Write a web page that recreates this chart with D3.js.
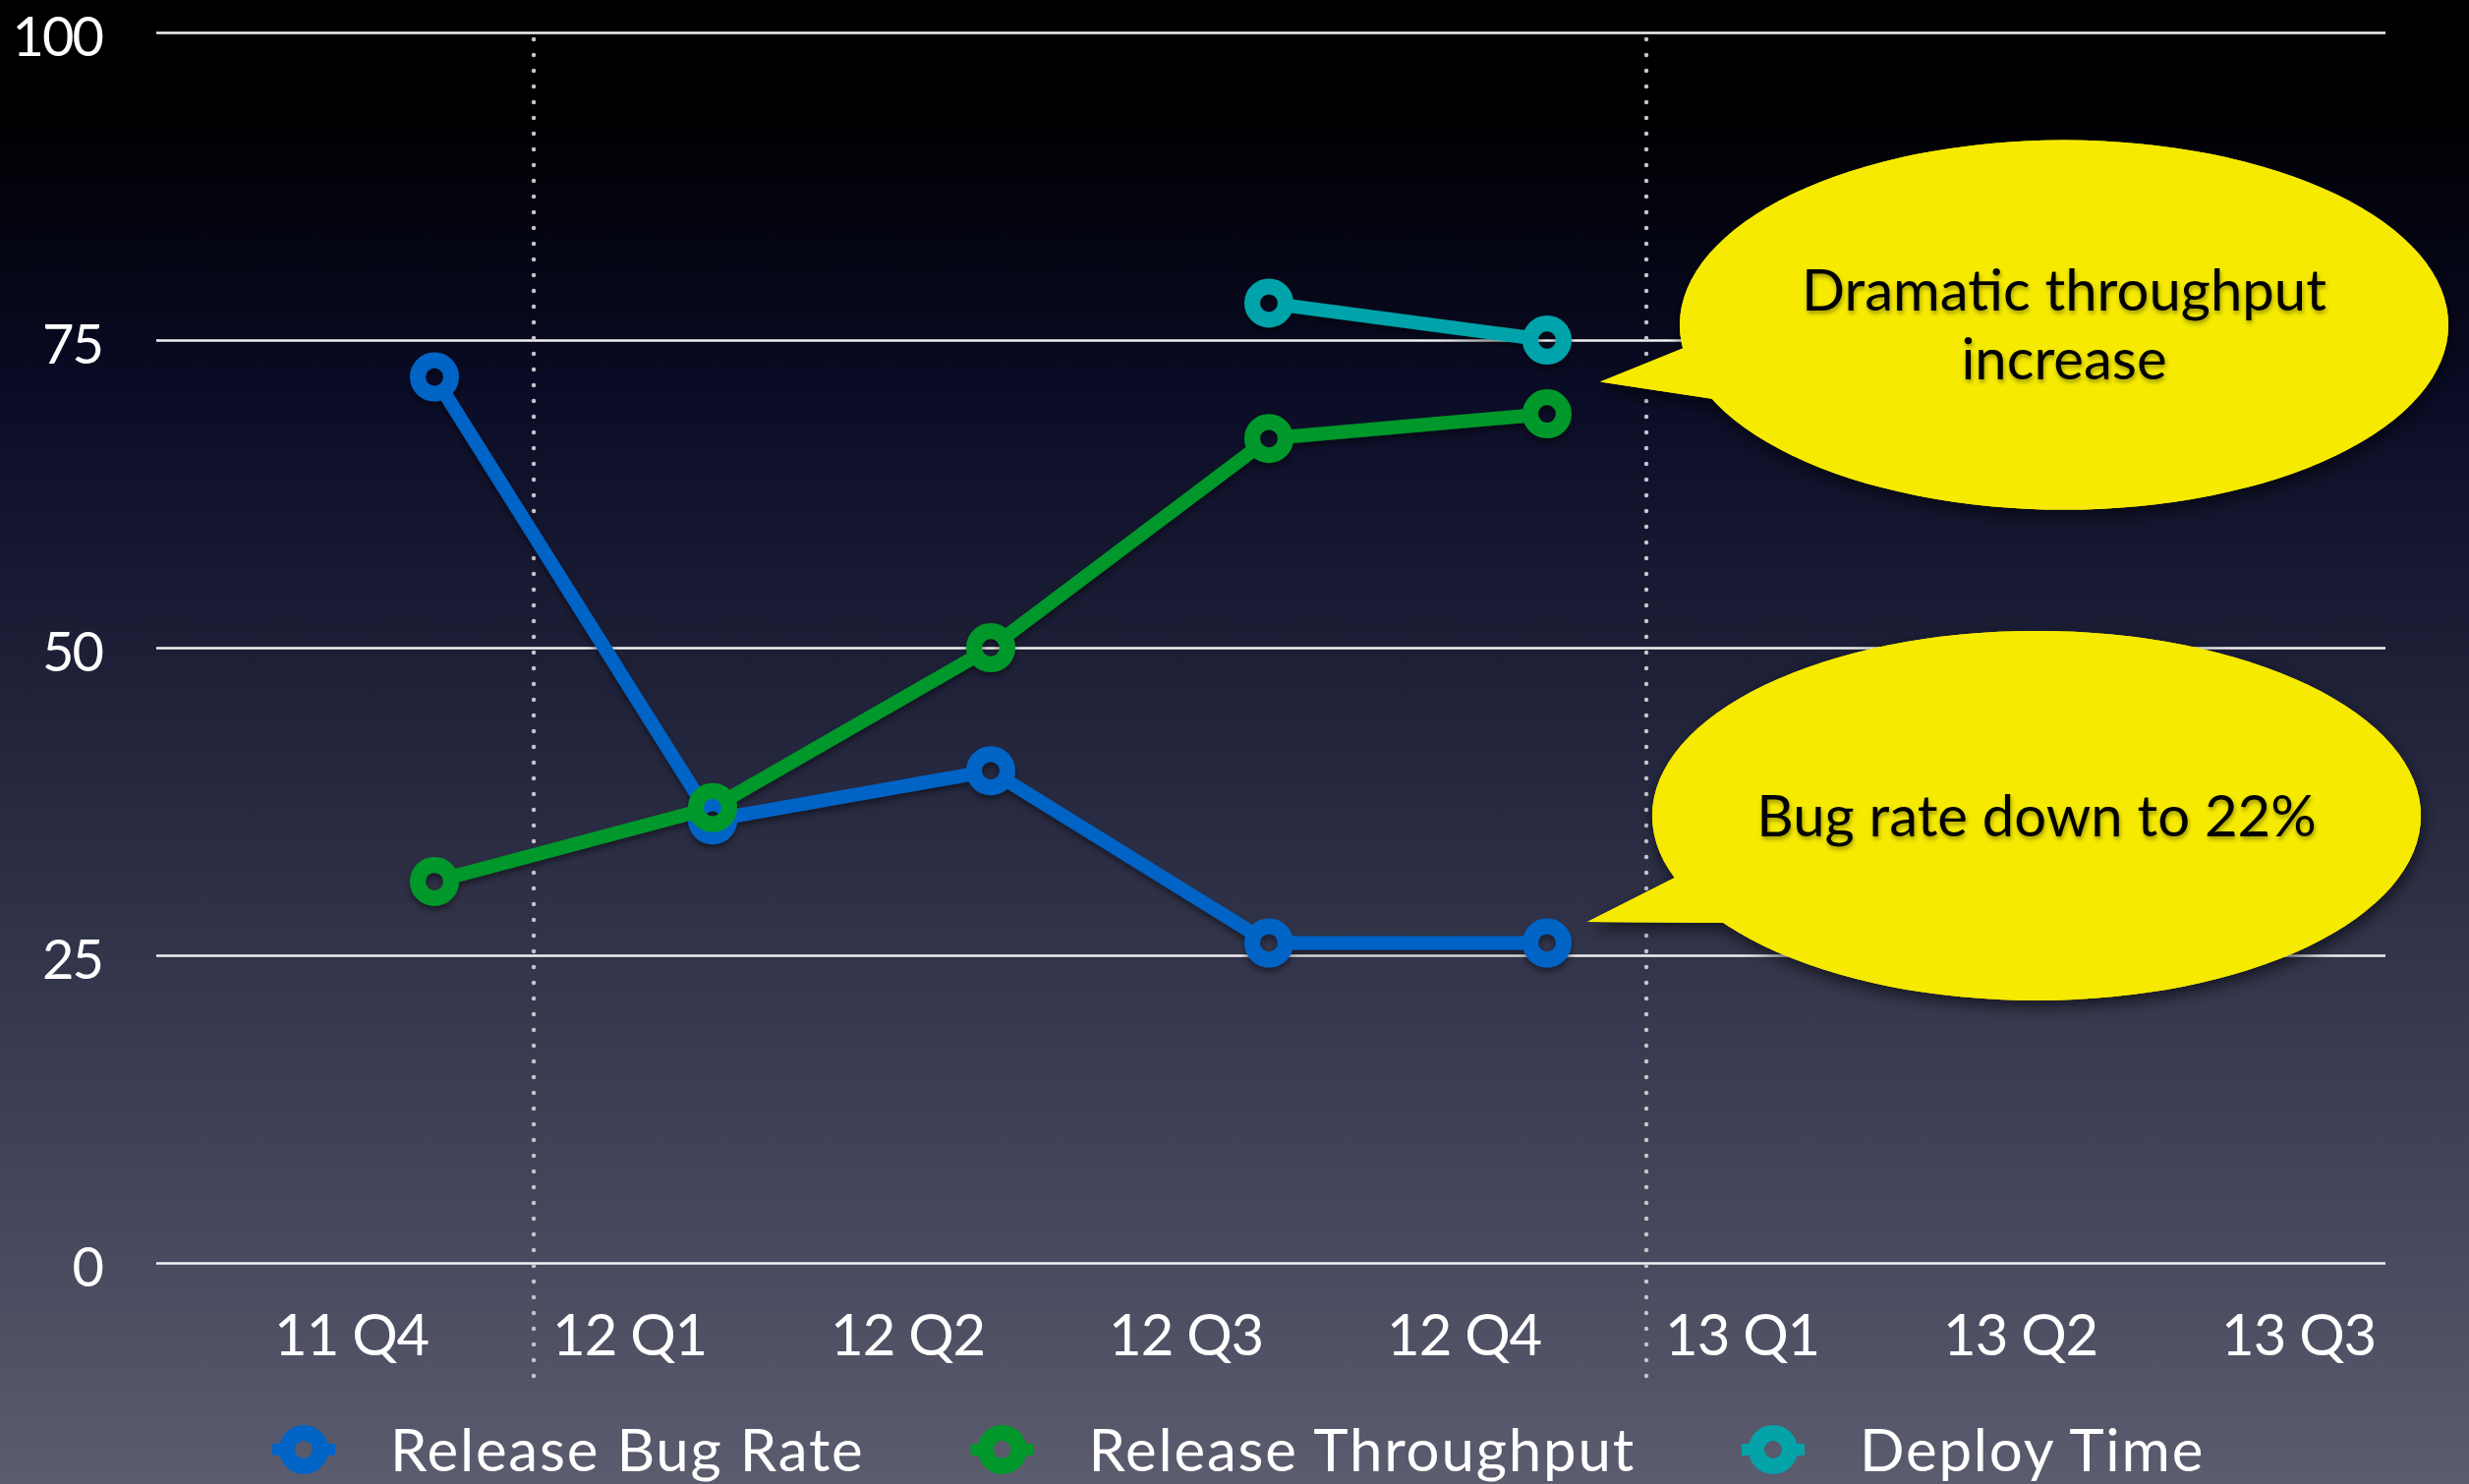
<!DOCTYPE html>
<html>
<head>
<meta charset="utf-8">
<script src="https://cdn.jsdelivr.net/npm/d3@7"></script>
<style>
  html, body { margin: 0; padding: 0; background: #000; }
  svg { display: block; }
  text { font-family: "Lato", "Open Sans", sans-serif; }
</style>
</head>
<body>
<svg id="chart" width="2512" height="1510"></svg>
<script>
// ---------------- DATA ----------------
const categories = ["11 Q4", "12 Q1", "12 Q2", "12 Q3", "12 Q4", "13 Q1", "13 Q2", "13 Q3"];
const yTicks = [0, 25, 50, 75, 100];
const releaseBugRate = [72, 36, 40, 26, 26, null, null, null];
const releaseThroughput = [31, 37, 50, 67, 69, null, null, null];
const deployTime = [null, null, null, 78, 75, null, null, null];
const seriesNames = ["Release Bug Rate", "Release Throughput", "Deploy Time"];
const seriesColors = ["#0064c6", "#00982a", "#04a3aa"];
const separatorsAfter = ["11 Q4", "12 Q4"];
const callouts = [
  { lines: ["Dramatic throughput", "increase"], cat: "12 Q4", value: 72 },
  { lines: ["Bug rate down to 22%"], cat: "12 Q4", value: 27 }
];

// ---------------- LAYOUT ----------------
const W = 2512, H = 1510;
const plotLeft = 159, plotRight = 2427;
const svg = d3.select("#chart");

const x = d3.scalePoint().domain(categories).range([442, 2423]);
const step = x.step();
const y = d3.scaleLinear().domain([0, 100]).range([1285, 33]);

// defs
const defs = svg.append("defs");
const grad = defs.append("linearGradient").attr("id", "bg").attr("x1", 0).attr("y1", 0).attr("x2", 0).attr("y2", 1);
[[0, "#000000"], [0.08, "#000002"], [0.26, "#0a0b25"], [0.46, "#1f2139"], [0.66, "#34364c"], [0.84, "#48495e"], [1, "#5b5c6e"]]
  .forEach(([o, c]) => grad.append("stop").attr("offset", o).attr("stop-color", c));

function shadow(id, dx, dy, sd, op) {
  const f = defs.append("filter").attr("id", id).attr("x", "-20%").attr("y", "-20%").attr("width", "140%").attr("height", "140%");
  f.append("feDropShadow").attr("dx", dx).attr("dy", dy).attr("stdDeviation", sd)
    .attr("flood-color", "#000").attr("flood-opacity", op);
}
shadow("lineShadow", 0, 4, 3, 0.45);
shadow("bubbleShadow", 2, 6, 8, 0.6);
shadow("textShadow", 1, 3, 2, 0.35);

svg.append("rect").attr("width", W).attr("height", H).attr("fill", "url(#bg)");

// Y axis gridlines + labels
const yAxis = d3.axisLeft(y).tickValues(yTicks).tickSize(-(plotRight - plotLeft)).tickPadding(55).tickFormat(d3.format("d"));
const gy = svg.append("g").attr("transform", `translate(${plotLeft},0)`).call(yAxis);
gy.select(".domain").remove();
gy.selectAll(".tick line").attr("stroke", "#f2f2f2").attr("stroke-width", 2.5);
gy.selectAll(".tick text").attr("fill", "#ffffff").attr("font-size", 56)
  .attr("letter-spacing", -2).attr("dy", "0.42em");

// X axis labels
const xAxis = d3.axisBottom(x).tickSize(0).tickPadding(0);
const gx = svg.append("g").attr("transform", `translate(0,${y(0)})`).call(xAxis);
gx.select(".domain").remove();
gx.selectAll(".tick text")
  .attr("fill", "#ffffff").attr("font-size", 58).attr("letter-spacing", -1)
  .attr("x", -step * 0.3).attr("y", 1379 - y(0)).attr("dy", 0);

// dotted separators
svg.append("g").selectAll("line").data(separatorsAfter).join("line")
  .attr("x1", d => x(d) + step * 0.357).attr("x2", d => x(d) + step * 0.357)
  .attr("y1", 40).attr("y2", 1404)
  .attr("stroke", "#c4c4c8").attr("stroke-width", 4.5)
  .attr("stroke-linecap", "round").attr("stroke-dasharray", "0 16");

// series
const allSeries = [releaseBugRate, releaseThroughput, deployTime].map((vals, i) => ({
  name: seriesNames[i], color: seriesColors[i],
  pts: categories.map((c, j) => ({ c, v: vals[j] })).filter(p => p.v != null)
}));

const ringR = 17, ringW = 16, lineW = 14;
const gSeries = svg.append("g").attr("filter", "url(#lineShadow)");
allSeries.forEach(s => {
  const g = gSeries.append("g");
  const segs = d3.pairs(s.pts).map(([a, b]) => {
    const x1 = x(a.c), y1 = y(a.v), x2 = x(b.c), y2 = y(b.v);
    const len = Math.hypot(x2 - x1, y2 - y1), k = (ringR - 2) / len;
    return [x1 + (x2 - x1) * k, y1 + (y2 - y1) * k, x2 - (x2 - x1) * k, y2 - (y2 - y1) * k];
  });
  g.selectAll("line").data(segs).join("line")
    .attr("x1", d => d[0]).attr("y1", d => d[1]).attr("x2", d => d[2]).attr("y2", d => d[3])
    .attr("stroke", s.color).attr("stroke-width", lineW).attr("stroke-linecap", "butt");
  g.selectAll("circle").data(s.pts).join("circle")
    .attr("cx", d => x(d.c)).attr("cy", d => y(d.v)).attr("r", ringR)
    .attr("fill", "none").attr("stroke", s.color).attr("stroke-width", ringW);
});

// callouts (offsets relative to the anchor point)
const bubbleRX = 391, bubbleRY = 188;
const bubbleOffsets = [
  { dx: 526, dy: -53, tip: [54, 5], base: [[138, -29], [173, 23]] },
  { dx: 498, dy: -117, tip: [41, -9], base: [[130, -54], [180, -8]] }
];
callouts.forEach((co, i) => {
  const ax = x(co.cat), ay = y(co.value);
  const o = bubbleOffsets[i];
  const cx = ax + o.dx, cy = ay + o.dy;
  const tailD = `M${ax + o.tip[0]},${ay + o.tip[1]} L${ax + o.base[0][0]},${ay + o.base[0][1]} L${ax + o.base[0][0] + 80},${ay + o.base[0][1] + 5} L${ax + o.base[1][0] + 40},${ay + o.base[1][1] + 2} L${ax + o.base[1][0]},${ay + o.base[1][1]} Z`;
  const g = svg.append("g");
  const sh = g.append("g").attr("filter", "url(#bubbleShadow)");
  sh.append("ellipse").attr("cx", cx).attr("cy", cy).attr("rx", bubbleRX).attr("ry", bubbleRY).attr("fill", "#f5ea00");
  sh.append("path").attr("d", tailD).attr("fill", "#f5ea00");
  g.append("ellipse").attr("cx", cx).attr("cy", cy).attr("rx", bubbleRX).attr("ry", bubbleRY).attr("fill", "#f5ea00");
  g.append("path").attr("d", tailD).attr("fill", "#f5ea00");
  const n = co.lines.length, lh = 70;
  g.append("g").attr("filter", "url(#textShadow)").selectAll("text").data(co.lines).join("text")
    .attr("x", cx).attr("y", (d, j) => cy + (j - (n - 1) / 2) * lh)
    .attr("dy", "0.36em").attr("text-anchor", "middle")
    .attr("font-size", 58).attr("fill", "#000").text(d => d);
});

// legend
const legend = svg.append("g").attr("transform", "translate(0,1475)");
let lx = 309;
allSeries.forEach(s => {
  const g = legend.append("g").attr("transform", `translate(${lx},0)`);
  g.append("line").attr("x1", -32).attr("x2", -ringR).attr("stroke", s.color).attr("stroke-width", 12);
  g.append("line").attr("x1", ringR).attr("x2", 32).attr("stroke", s.color).attr("stroke-width", 12);
  g.append("circle").attr("r", ringR).attr("fill", "none").attr("stroke", s.color).attr("stroke-width", ringW);
  const t = g.append("text").attr("x", 88).attr("y", 22).attr("font-size", 60)
    .attr("letter-spacing", 1.8).attr("fill", "#fff").text(s.name);
  const w = t.node().getComputedTextLength();
  lx = lx + 88 + w + 140;
});
</script>
</body>
</html>
